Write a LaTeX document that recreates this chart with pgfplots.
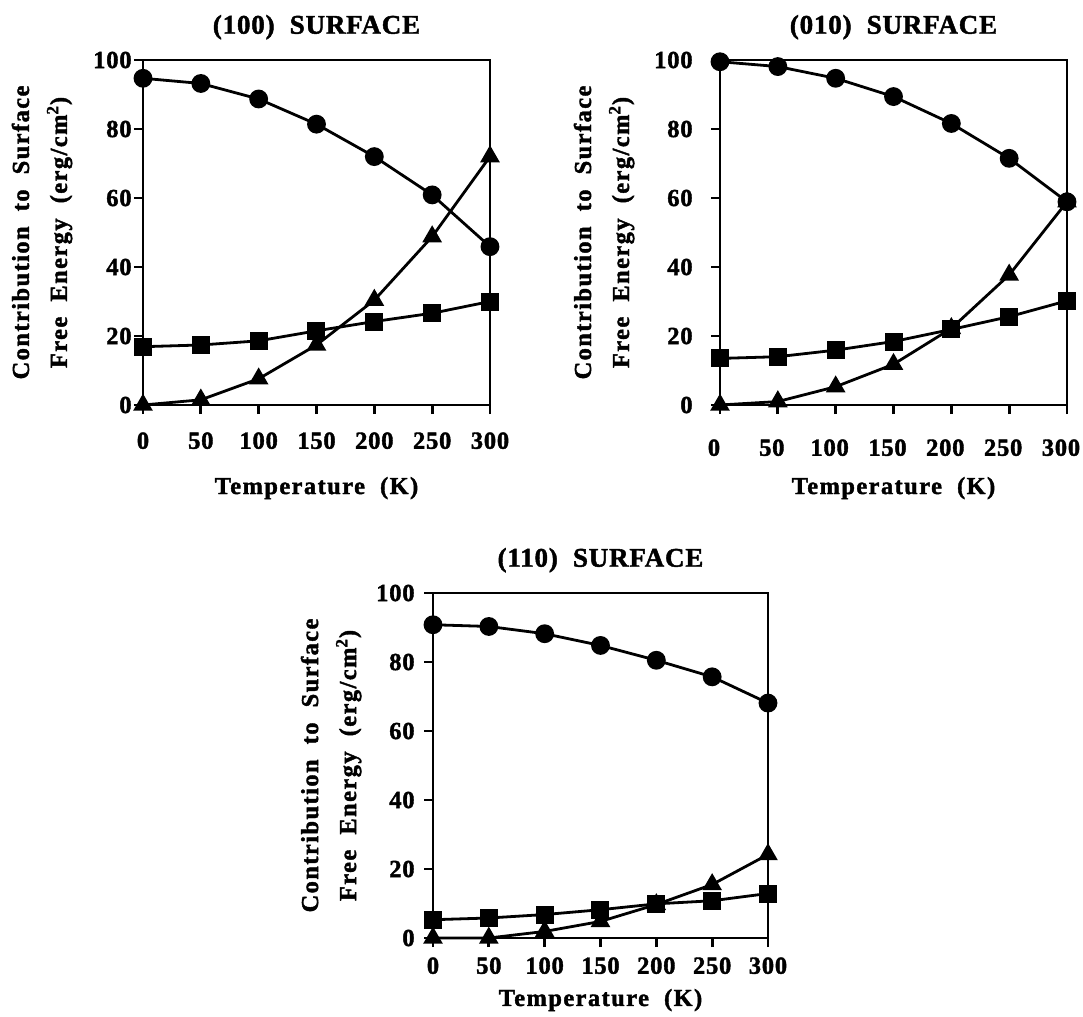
\documentclass[border=0pt]{standalone}
\usepackage{pgfplots}
\pgfplotsset{compat=1.18}
\usepackage{fontspec}
\setmainfont{Liberation Serif}
\newfontfamily\labfont{Liberation Serif}[LetterSpace=6, BoldFeatures={FakeBold=1.6}]
\newfontfamily\titfont{Liberation Serif}[LetterSpace=3, BoldFeatures={FakeBold=1.6}]
\newfontfamily\tckfont{Liberation Serif}[LetterSpace=3, BoldFeatures={FakeBold=1.6}]
\newcommand{\lf}{\labfont\bfseries\fontsize{12.2}{19}\selectfont}
\newcommand{\tf}{\titfont\bfseries\fontsize{13.5}{16}\selectfont}
\newcommand{\kf}{\tckfont\bfseries\fontsize{12.3}{14}\selectfont}
\pgfplotsset{
  base/.style={
    scale only axis, anchor=south west,
    xmin=0, xmax=300, ymin=0, ymax=100,
    xtick={0,50,...,300}, ytick={0,20,...,100},
    xtick pos=bottom, ytick pos=left,
    tick align=outside, major tick length=4.5pt,
    every tick/.style={black, line width=1.4pt},
    axis line style={black, line width=1.4pt},
    /pgf/number format/assume math mode=true,
    tick label style={font=\kf, inner sep=0pt},
    clip=false,
    every axis title/.style={font=\tf, anchor=center, at={(axis description cs:0.5,1.095)}},
    xlabel={Temperature\ \ (K)},
    ylabel={Contribution\ \ to\ \ Surface\\Free\ \ Energy\ \ (erg/cm\textsuperscript{2})},
    every axis y label/.style={rotate=90, anchor=center, align=center, font=\lf},
    every axis x label/.style={anchor=center, font=\lf},
    every axis plot/.append style={black, line width=1.4pt, mark options={solid, fill=black}},
  },
  circ/.style={mark=*, mark size=4pt},
  sq/.style={mark=square*, mark size=3.8pt},
  tri/.style={mark=triangle*, mark size=4.3pt},
}
\begin{document}
\begin{tikzpicture}
\useasboundingbox (0,0) rectangle (541.5pt,-508.5pt);
% (100)
\begin{axis}[base, at={(71.5pt,-202.5pt)}, width=173.5pt, height=172.5pt,
  title={(100)\ \ SURFACE},
  xticklabel style={yshift=-9pt}, yticklabel style={xshift=-1pt},
  x label style={at={(axis description cs:0.5,-0.241)}},
  y label style={at={(axis description cs:-0.291,0.5)}}]
\addplot[circ] coordinates {(0,94.7) (50,93.2) (100,88.7) (150,81.4) (200,72.0) (250,60.9) (300,45.9)};
\addplot[sq] coordinates {(0,16.9) (50,17.4) (100,18.6) (150,21.5) (200,24.2) (250,26.6) (300,30.0)};
\addplot[tri] coordinates {(0,0) (50,1.5) (100,7.6) (150,17.4) (200,30.4) (250,48.8) (300,72.0)};
\end{axis}
% (010)
\begin{axis}[base, at={(360pt,-202.5pt)}, width=173.5pt, height=172.5pt,
  title={(010)\ \ SURFACE},
  xticklabel style={yshift=-12.5pt, xshift=-3pt}, yticklabel style={xshift=-9pt},
  x label style={at={(axis description cs:0.5,-0.241)}},
  y label style={at={(axis description cs:-0.334,0.5)}}]
\addplot[circ] coordinates {(0,99.5) (50,98.1) (100,94.7) (150,89.4) (200,81.6) (250,71.5) (300,58.9)};
\addplot[sq] coordinates {(0,13.5) (50,14.0) (100,15.9) (150,18.4) (200,21.9) (250,25.6) (300,30.2)};
\addplot[tri] coordinates {(0,0) (50,1.0) (100,5.3) (150,11.8) (200,22.2) (250,37.7) (300,58.9)};
\end{axis}
% (110)
\begin{axis}[base, at={(216.5pt,-469pt)}, width=167.5pt, height=172.5pt,
  title={(110)\ \ SURFACE},
  xticklabel style={yshift=-5pt}, yticklabel style={xshift=-4.5pt},
  x label style={at={(axis description cs:0.5,-0.18)}},
  y label style={at={(axis description cs:-0.304,0.5)}}]
\addplot[circ] coordinates {(0,90.8) (50,90.3) (100,88.2) (150,84.8) (200,80.5) (250,75.7) (300,68.1)};
\addplot[sq] coordinates {(0,5.3) (50,5.8) (100,6.8) (150,8.2) (200,9.9) (250,10.8) (300,12.9)};
\addplot[tri] coordinates {(0,0) (50,0) (100,1.9) (150,4.8) (200,9.7) (250,15.5) (300,24.2)};
\end{axis}
\end{tikzpicture}
\end{document}
